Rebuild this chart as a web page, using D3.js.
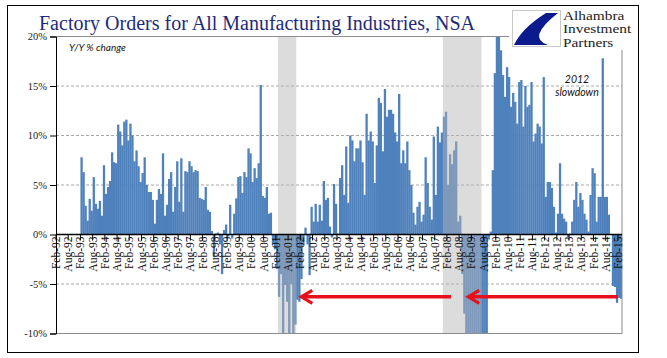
<!DOCTYPE html>
<html><head><meta charset="utf-8">
<script src="https://cdn.jsdelivr.net/npm/d3@7"></script>
<style>body{margin:0;background:#fff}svg{display:block}</style>
</head><body>
<script>
const title = "Factory Orders for All Manufacturing Industries, NSA";
const firstMonth = "Feb-92", lastMonth = "Mar-15", dataStart = "Feb-93";
// Y/Y % change, monthly from Feb-93
const yoyChange = [
  7.8, 6.3, 2.9, 1.4, 3.6, 2.4, 5.8, 3.1, 2.6, 3.4, 1.9, 7.0,
  4.1, 4.8, 5.4, 8.3, 7.3, 7.2, 11.1, 10.4, 9.0, 11.4, 11.6, 9.5,
  11.2, 10.0, 7.4, 8.5, 6.9, 5.3, 6.2, 7.8, 5.0, 4.3, 4.3, 3.5,
  1.1, 3.5, 4.6, 4.1, 8.2, 1.9, 3.0, 5.6, 6.3, 2.3, 4.8, 7.4,
  3.3, 7.7, 2.3, 6.4, 6.3, 7.4, 6.9, 6.3, 6.5, 6.4, 3.7, 3.6,
  3.5, 4.8, 2.5, 2.3, 0.35, -2.3, 0.1, 0.2, -1.0, -4.0, 0.45, 1.0,
  -0.2, 3.0, -0.4, 2.1, 3.65, 5.8, 5.9, 4.2, 6.3, 5.8, 8.7, 8.2,
  5.3, 6.7, 5.7, 7.2, 15.1, 3.9, 3.7, 4.8, 2.1, 2.2, -1.0, -1.5,
  -3.5, -6.3, -4.0, -10.3, -5.1, -6.8, -10.3, -5.0, -10.3, -9.1, -6.6, -6.8,
  -4.5, -1.1, 0.7, -1.0, -4.1, 2.8, 1.3, 3.1, 1.3, 3.0, 1.4, 5.4,
  3.5, 3.7, 0.8, -0.3, 5.1, 3.1, 0.1, 5.7, 7.0, 4.0, 8.9, 3.2,
  10.0, 9.5, 7.4, 8.7, 8.7, 9.5, 7.3, 4.0, 12.2, 9.5, 10.4, 9.4,
  5.2, 9.0, 13.8, 13.3, 8.4, 14.7, 11.9, 12.6, 12.6, 12.2, 10.3, 9.4,
  14.2, 7.2, 8.5, 7.2, 9.4, 6.5, 5.0, 2.2, 1.0, 2.8, 3.3, 1.3,
  2.0, 7.8, 5.2, 2.8, 1.5, 9.9, 4.0, 10.9, 9.3, 10.3, 11.9, 12.4,
  5.0, 8.1, 7.1, 8.5, 9.4, 1.3, 1.9, -4.0, -8.0, -12.0, -16.0, -20.0,
  -22.0, -24.0, -23.0, -22.0, -20.0, -18.0, -15.0, -12.0, -0.5, 0.3, 6.5, 16.3,
  21.0, 21.0, 18.6, 16.1, 13.9, 16.9, 15.9, 12.9, 14.3, 13.4, 11.2, 15.4,
  15.6, 10.9, 15.0, 12.9, 13.1, 15.4, 9.4, 10.2, 11.2, 10.9, 9.2, 15.9,
  3.8, 5.3, 5.3, 4.7, 2.8, 0.2, 2.1, 7.2, 2.1, 1.6, 1.3, -0.3,
  0.1, 1.3, 3.5, 5.3, 2.8, 4.2, 3.5, 2.1, 1.5, 0.3, 4.0, 6.7,
  6.2, 1.3, 3.8, 3.8, 17.8, 3.8, 3.8, 2.0, 0.0, -5.2, -5.3, -6.9,
  -6.4, -6.5
];
const tickLabels = ["Feb-92","Aug-92","Feb-93","Aug-93","Feb-94","Aug-94","Feb-95","Aug-95",
  "Feb-96","Aug-96","Feb-97","Aug-97","Feb-98","Aug-98","Feb-99","Aug-99","Feb-00","Aug-00",
  "Feb-01","Aug-01","Feb-02","Aug-02","Feb-03","Aug-03","Feb-04","Aug-04","Feb-05","Aug-05",
  "Feb-06","Aug-06","Feb-07","Aug-07","Feb-08","Aug-08","Feb-09","Aug-09","Feb-10","Aug-10",
  "Feb-11","Aug-11","Feb-12","Aug-12","Feb-13","Aug-13","Feb-14","Aug-14","Feb-15"];
const yTicks = [20, 15, 10, 5, 0, -5, -10];
const gridValues = [15, 10, 5, -5];
const recessions = [["Mar-01", "Nov-01"], ["Dec-07", "Jun-09"]];
const arrows = [{from: "Apr-08", to: "Feb-02", level: -6.3}, {from: "Feb-15", to: "Dec-08", level: -6.3}];
const unitNote = "Y/Y % change";
const slowdownNote = ["2012", "slowdown"];
const logoLines = ["Alhambra", "Investment", "Partners"];

const W = 667, H = 358;
const svg = d3.select("body").append("svg").attr("width", W).attr("height", H);
const parse = d3.timeParse("%b-%y"), fmt = d3.timeFormat("%b-%y");
const months = d3.timeMonth.range(parse(firstMonth), d3.timeMonth.offset(parse(lastMonth), 1)).map(fmt);
const x = d3.scaleBand().domain(months).range([56, 622]).padding(0);
const y = d3.scaleLinear().domain([-10, 20]).range([333.5, 36.5]).clamp(true);
const bw = x.bandwidth();
const startIdx = months.indexOf(dataStart);
const data = yoyChange.map((v, k) => ({m: months[startIdx + k], v}));

// outer border
svg.append("rect").attr("x", 7.5).attr("y", 5.5).attr("width", 631).attr("height", 347)
  .attr("fill", "none").attr("stroke", "#000").attr("stroke-width", 1);

// title
svg.append("text").attr("x", 39).attr("y", 29.5).text(title)
  .attr("font-family", "Liberation Serif").attr("font-size", 20).attr("fill", "#1f2b7a");

// gridlines
svg.append("g").selectAll("line").data(gridValues).join("line")
  .attr("x1", 56).attr("x2", 622).attr("y1", d => y(d)).attr("y2", d => y(d))
  .attr("stroke", "#a8a8a8").attr("stroke-width", 1).attr("stroke-dasharray", "3,2");

// bars
svg.append("clipPath").attr("id", "plotclip").append("rect")
  .attr("x", 56).attr("y", y(20)).attr("width", 566).attr("height", y(-10) - y(20));
svg.append("g").attr("clip-path", "url(#plotclip)").selectAll("rect").data(data).join("rect")
  .attr("x", d => x(d.m)).attr("width", bw + 0.25)
  .attr("y", d => y(Math.max(0, d.v))).attr("height", d => Math.abs(y(d.v) - y(0)))
  .attr("fill", "#4f81bd");

// recession shading (translucent over bars)
svg.append("g").selectAll("rect").data(recessions).join("rect")
  .attr("x", d => x(d[0])).attr("width", d => x(d[1]) + bw - x(d[0]))
  .attr("y", y(20)).attr("height", y(-10) - y(20))
  .attr("fill", "#b4b4b4").attr("opacity", 0.47);

// frame lines
svg.append("line").attr("x1", 56).attr("x2", 509).attr("y1", y(20)).attr("y2", y(20)).attr("stroke", "#8c8c8c");
svg.append("line").attr("x1", 622).attr("x2", 622).attr("y1", 50).attr("y2", y(-10)).attr("stroke", "#8c8c8c");
svg.append("line").attr("x1", 56).attr("x2", 622).attr("y1", y(-10)).attr("y2", y(-10)).attr("stroke", "#8c8c8c");

// y axis
const yAxis = svg.append("g").attr("transform", "translate(56,0)")
  .call(d3.axisLeft(y).tickValues(yTicks).tickFormat(d => d + "%").tickSize(6).tickPadding(3));
yAxis.select(".domain").attr("stroke", "#000");
yAxis.selectAll(".tick line").attr("stroke", "#000");
yAxis.selectAll("text").attr("font-family", "Liberation Serif").attr("font-size", 10.5).attr("fill", "#222");

// x axis line at zero
svg.append("line").attr("x1", 56).attr("x2", 622).attr("y1", y(0)).attr("y2", y(0))
  .attr("stroke", "#000").attr("stroke-width", 1.5);
const xt = svg.append("g").selectAll("g").data(tickLabels).join("g")
  .attr("transform", d => `translate(${x(d)},${y(0)})`);
xt.append("line").attr("y1", 0).attr("y2", 6).attr("stroke", "#000");
xt.append("text").attr("transform", "translate(0,2) rotate(-90)").attr("text-anchor", "end")
  .attr("dy", "0.35em").text(d => d)
  .attr("font-family", "Liberation Serif").attr("font-size", 11.5).attr("fill", "#111");

// arrows
const ag = svg.append("g").selectAll("g").data(arrows).join("g");
ag.append("line").attr("x1", d => x(d.from)).attr("x2", d => x(d.to) + 2)
  .attr("y1", d => y(d.level)).attr("y2", d => y(d.level))
  .attr("stroke", "#e8101a").attr("stroke-width", 3.5);
ag.append("path").attr("d", d => {
  const tx = x(d.to), ty = y(d.level);
  return `M${tx + 12},${ty - 6.5} L${tx + 1},${ty} L${tx + 12},${ty + 6.5}`;
}).attr("fill", "none").attr("stroke", "#e8101a").attr("stroke-width", 3.2).attr("stroke-linejoin", "miter");

// notes
svg.append("text").attr("x", 69).attr("y", 50.5).text(unitNote)
  .attr("font-family", "Lato").attr("font-style", "italic").attr("font-size", 10).attr("fill", "#111");
svg.append("text").attr("text-anchor", "middle").attr("font-family", "Lato").attr("font-style", "italic")
  .attr("font-size", 10.5).attr("fill", "#111")
  .selectAll("tspan").data(slowdownNote).join("tspan")
  .attr("x", 577).attr("y", (d, i) => 82.5 + i * 13).text(d => d);

// logo
svg.append("rect").attr("x", 512.5).attr("y", 10.5).attr("width", 48).attr("height", 36)
  .attr("fill", "#fff").attr("stroke", "#c8c8c8");
svg.append("path").attr("d", "M558,13 L546,13 Q522,28 514,45 L548,45 Q526,38 558,13 Z").attr("fill", "#0b1a8c");
svg.append("text").attr("transform", "translate(563,0) scale(1.28,1)")
  .attr("font-family", "Liberation Serif").attr("font-size", 12).attr("fill", "#222")
  .selectAll("tspan").data(logoLines).join("tspan")
  .attr("x", 0).attr("y", (d, i) => 20 + i * 13.5).text(d => d);
</script>
</body></html>
